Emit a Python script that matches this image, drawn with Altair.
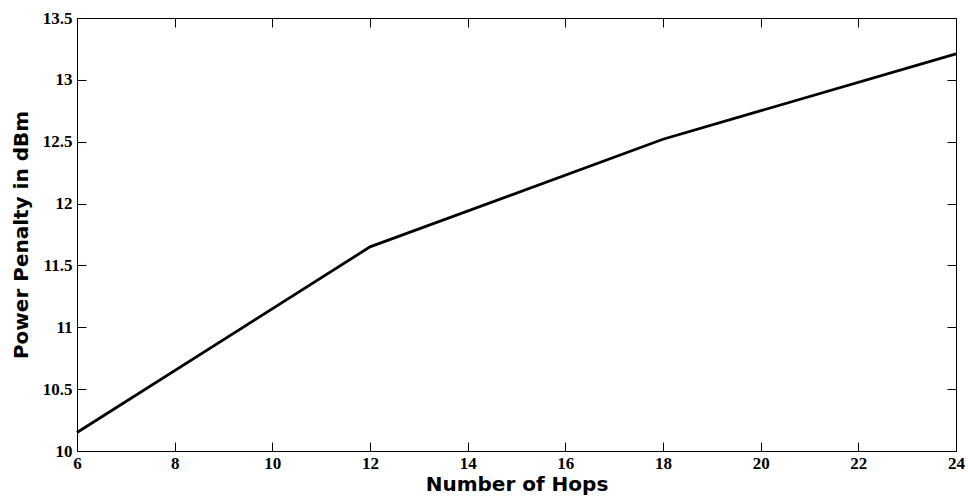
import altair as alt
import pandas as pd

hops = [6, 12, 18, 24]
penalty = [10.15, 11.65, 12.52, 13.21]
x_ticks = [6, 8, 10, 12, 14, 16, 18, 20, 22, 24]
y_ticks = [10, 10.5, 11, 11.5, 12, 12.5, 13, 13.5]

df = pd.DataFrame({"hops": hops, "penalty": penalty})

xs = alt.Scale(domain=[6, 24], nice=False, zero=False)
ys = alt.Scale(domain=[10, 13.5], nice=False, zero=False)

tick_style = dict(domain=False, grid=False, tickSize=9, offset=-9, tickColor="black", tickWidth=1)
label_style = dict(labelFont="Liberation Serif", labelFontWeight="bold", labelFontSize=17,
                   labelColor="black", titleFont="DejaVu Sans", titleFontWeight="bold",
                   titleFontSize=20, titleColor="black", labelFlush=False)

main = alt.Chart(df).mark_line(color="black", strokeWidth=2.8).encode(
    x=alt.X("hops:Q", scale=xs,
            axis=alt.Axis(orient="bottom", values=x_ticks, title="Number of Hops",
                          labelPadding=4, titlePadding=3, **tick_style, **label_style)),
    y=alt.Y("penalty:Q", scale=ys,
            axis=alt.Axis(orient="left", values=y_ticks, format=".1~f", title="Power Penalty in dBm",
                          labelPadding=5, titlePadding=11, **tick_style, **label_style)),
)

frame = alt.Chart(df).mark_line(opacity=0).encode(
    x=alt.X("hops:Q", scale=xs,
            axis=alt.Axis(orient="top", values=x_ticks, labels=False, title=None, **tick_style)),
    y=alt.Y("penalty:Q", scale=ys,
            axis=alt.Axis(orient="right", values=y_ticks, labels=False, title=None, **tick_style)),
)

chart = alt.layer(main, frame).resolve_axis(x="independent", y="independent").properties(
    width=879, height=433,
    autosize=alt.AutoSizeParams(type="none"),
    padding={"left": 77, "top": 18, "right": 12, "bottom": 45},
    background="white",
).configure_view(stroke="black", strokeWidth=1)

chart.save("out.html", embed_options={"renderer": "svg", "actions": False})
